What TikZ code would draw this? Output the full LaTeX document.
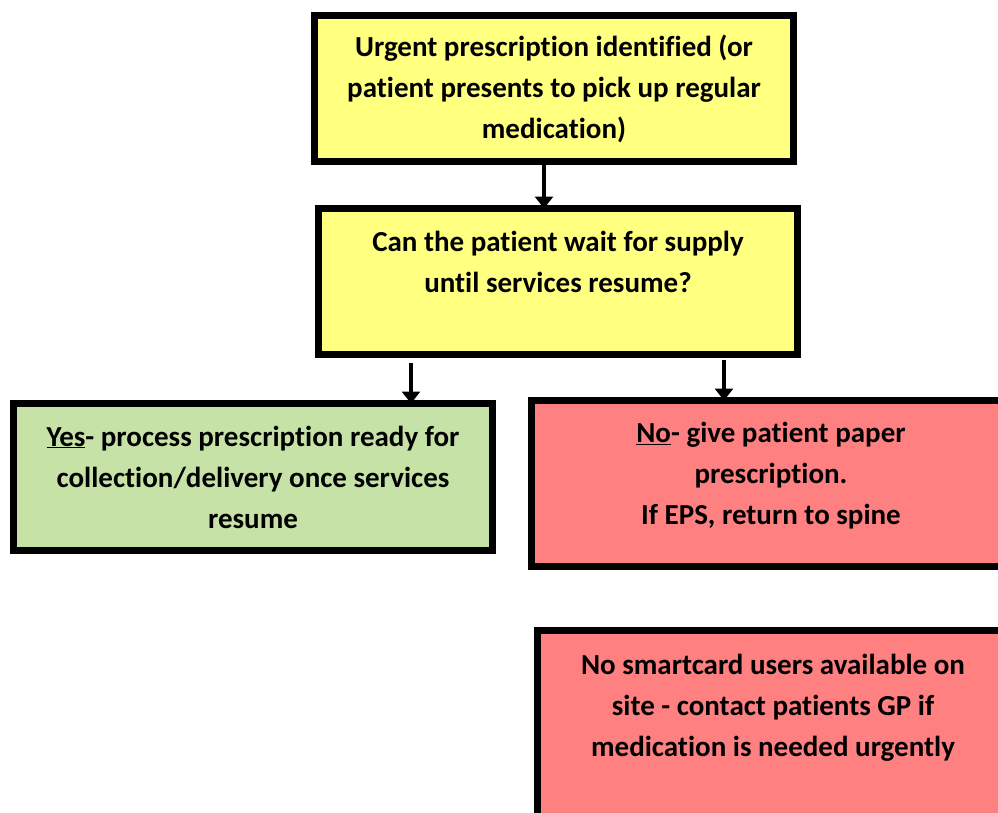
\documentclass[tikz,border=0pt]{standalone}
\usepackage{fontspec}
\setmainfont{Carlito}[Ligatures={NoCommon}]
\usetikzlibrary{arrows.meta}
\definecolor{boxyellow}{HTML}{FFFF80}
\definecolor{boxgreen}{HTML}{C6E2A6}
\definecolor{boxred}{HTML}{FF8080}
\tikzset{
  x=1pt, y=-1pt,
  box/.style={draw=black, line width=7pt, minimum width=479pt, inner sep=0pt, outer sep=0pt},
  txt/.style={font=\fontsize{29}{41}\selectfont\bfseries, align=center},
  arr/.style={line width=4.5pt, -{Triangle[width=18pt,length=12pt]}}
}
\begin{document}
\begin{tikzpicture}
\useasboundingbox (0,0) rectangle (998,812);
\node[box, fill=boxyellow, minimum height=146pt] (b1) at (554,88.5) {};
\node[txt] at (b1.center) {Urgent prescription identified (or\\patient presents to pick up regular\\medication)};
\node[box, fill=boxyellow, minimum height=146pt] (b2) at (558,281.5) {};
\node[txt] at ([yshift=19.5pt]b2.center) {Can the patient wait for supply\\until services resume?};
\node[box, fill=boxgreen, minimum height=147pt] (yes) at (253,477) {};
\node[txt] at (yes.center) {\underline{Yes}- process prescription ready for\\collection/delivery once services\\resume};
\node[box, fill=boxred, minimum height=166pt] (no) at (771,483.5) {};
\node[txt] at ([yshift=7.5pt]no.center) {\underline{No}- give patient paper\\prescription.\\If EPS, return to spine};
\node[box, fill=boxred, minimum height=200pt] (sc) at (777,730) {};
\node[txt] at ([yshift=22pt,xshift=-4pt]sc.center) {No smartcard users available on\\site - contact patients GP if\\medication is needed urgently};
\draw[arr] ([xshift=-10pt]b1.south) -- ([xshift=-14pt]b2.north);
\draw[arr, shorten <=8pt] (b2.south -| 411,0) -- (yes.north -| 411,0);
\draw[arr, shorten <=5pt] (b2.south -| 724,0) -- (no.north -| 724,0);
\end{tikzpicture}
\end{document}
